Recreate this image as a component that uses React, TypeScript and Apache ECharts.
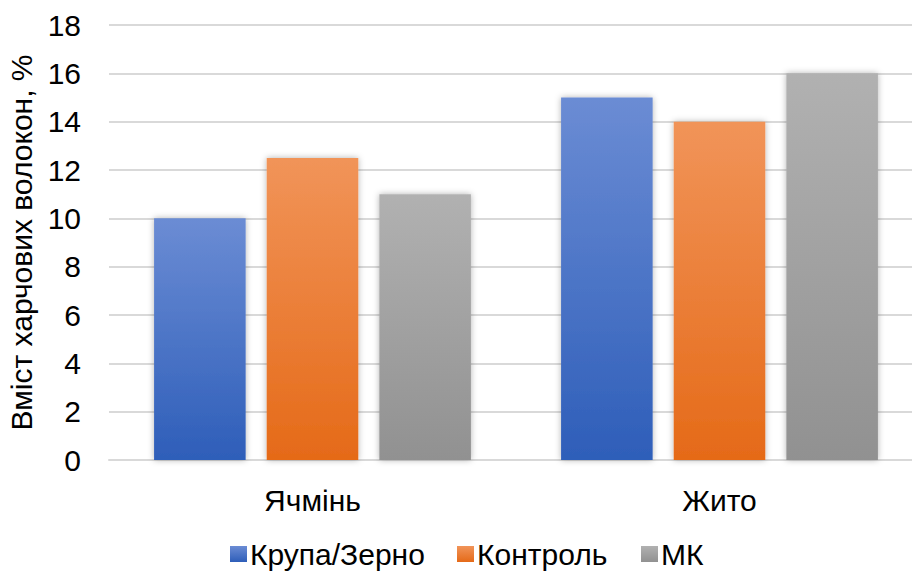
import React, { useEffect, useRef } from "react";
import * as echarts from "echarts";

const categories = ["Ячмінь", "Жито"];
const seriesNames = ["Крупа/Зерно", "Контроль", "МК"];
const krupaValues = [10, 15];
const kontrolValues = [12.5, 14];
const mkValues = [11, 16];

const FONT = "Liberation Sans";
const FONT_SIZE = 30;

const grad = (top: string, bottom: string) =>
  new echarts.graphic.LinearGradient(0, 0, 0, 1, [
    { offset: 0, color: top },
    { offset: 1, color: bottom },
  ]);

export default function App() {
  const ref = useRef<HTMLDivElement>(null);

  useEffect(() => {
    if (!ref.current) return;
    const chart = echarts.init(ref.current, undefined, { renderer: "svg" });
    const fills = [
      grad("#6b8cd4", "#2e5eb9"),
      grad("#f19459", "#e56a18"),
      grad("#b1b1b1", "#919191"),
    ];
    const values = [krupaValues, kontrolValues, mkValues];
    const txt = { fontFamily: FONT, fontSize: FONT_SIZE, color: "#000" };
    // one legend block per series so each entry sits at its own x
    const legendLeft = [225, 452, 636];
    chart.setOption({
      animation: false,
      backgroundColor: "#ffffff",
      textStyle: { fontFamily: FONT },
      grid: {
        left: 109,
        top: 25,
        width: 814,
        height: 435,
        containLabel: false,
        outerBoundsMode: "none",
      },
      legend: seriesNames.map((name, i) => ({
        data: [name],
        bottom: 0,
        left: legendLeft[i],
        itemWidth: 17,
        itemHeight: 16,
        itemGap: 0,
        icon: "rect",
        textStyle: { ...txt, padding: [0, 0, 0, -2] },
      })),
      xAxis: {
        type: "category",
        data: categories,
        axisLine: { show: true, lineStyle: { color: "#d9d9d9", width: 2 } },
        axisTick: { show: false },
        axisLabel: { ...txt, margin: 25 },
      },
      yAxis: {
        type: "value",
        min: 0,
        max: 18,
        interval: 2,
        name: "Вміст харчових волокон, %",
        nameLocation: "middle",
        nameGap: 69,
        nameTextStyle: txt,
        axisLine: { show: false },
        axisTick: { show: false },
        splitLine: { lineStyle: { color: "#d9d9d9", width: 2 } },
        axisLabel: { ...txt, margin: 28 },
      },
      series: seriesNames.map((name, i) => ({
        name,
        type: "bar",
        data: values[i],
        barWidth: "22.5%",
        barGap: "23%",
        itemStyle: {
          color: fills[i],
          shadowBlur: 6,
          shadowColor: "rgba(0,0,0,0.3)",
        },
      })),
    });
    return () => chart.dispose();
  }, []);

  return (
    <div
      ref={ref}
      style={{ position: "absolute", left: 0, top: 0, width: 912, height: 574 }}
    />
  );
}
